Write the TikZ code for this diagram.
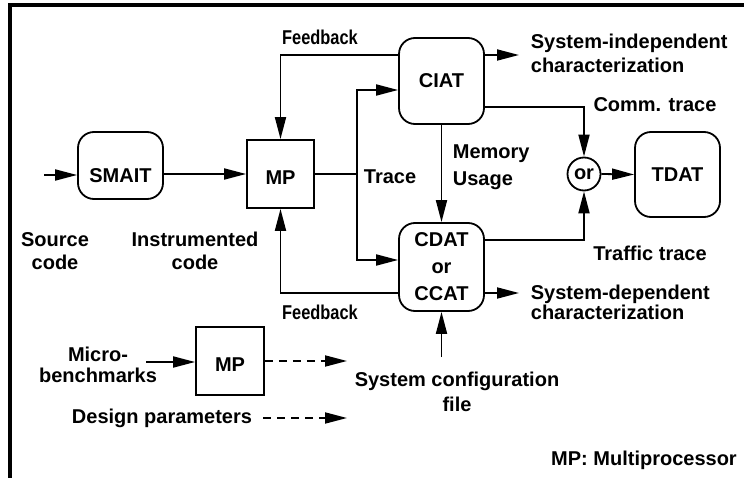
\documentclass[tikz,border=0pt]{standalone}
\usepackage{fontspec}
\setmainfont{Liberation Sans}
\newfontfamily\narrowsans[FakeStretch=0.82]{Liberation Sans}
\usetikzlibrary{arrows.meta}

\begin{document}
\begin{tikzpicture}[x=1pt,y=-1pt,line width=1.8pt,
  lbl/.style={inner sep=0pt,align=center,font=\bfseries\fontsize{20}{23}\selectfont},
  fbl/.style={inner sep=0pt,font=\narrowsans\bfseries\fontsize{20}{23}\selectfont},
  tool/.style={draw,rounded corners=16pt,inner sep=0pt,align=center,
    font=\bfseries\fontsize{20}{27}\selectfont},
  proc/.style={draw,inner sep=0pt,minimum width=67pt,minimum height=68pt,
    text height=21pt,text depth=0pt,
    font=\bfseries\fontsize{20}{23}\selectfont},
  arr/.style={-{Triangle[length=22pt,width=11pt]}},
  dsh/.style={arr,dash pattern=on 8pt off 6pt}]

\useasboundingbox (0,0) rectangle (744,478);

% frame
\draw[line width=3.5pt] (10,478) -- (10,5) -- (744,5);

% boxes
\node[tool,minimum width=85pt,minimum height=67pt,text height=34pt,text depth=0pt]
  (smait) at (120.5,165.5) {SMAIT};
\node[proc] (mp) at (280.5,174) {MP};
\node[tool,minimum width=85pt,minimum height=86pt] (ciat) at (441.5,81) {CIAT};
\node[tool,minimum width=85pt,minimum height=88pt] (cdat) at (441.5,267) {CDAT\\or\\CCAT};
\node[tool,minimum width=85pt,minimum height=85pt] (tdat) at (677.5,174.5) {TDAT};
\node[draw,circle,minimum size=33pt,inner sep=0pt,
  font=\bfseries\fontsize{20}{23}\selectfont] (or) at (584,174) {or};
\node[proc,minimum width=68pt] (mp2) at (230,361) {MP};

% helper points
\coordinate (in) at (44,175);
\coordinate (tr) at (357,174);
\coordinate (ta) at (357,90);
\coordinate (tb) at (357,260);
\coordinate (fbt) at (0,55);
\coordinate (fbb) at (0,293);
\coordinate (si) at (519,55);
\coordinate (ct) at (0,107);
\coordinate (tt) at (0,240);
\coordinate (sd) at (519,293);
\coordinate (sc) at (441.5,357);
\coordinate (mb) at (146,362);
\coordinate (d1) at (347,361);
\coordinate (dp) at (263,418);
\coordinate (d2) at (347,418);

% connectors
\draw[arr] (in) -- (in -| smait.west);
\draw[arr] (smait.east |- mp) -- (mp.west);
\draw (mp.east) -- (tr);
\draw[arr] (tr) |- (ciat.west |- ta);
\draw[arr] (tr) |- (cdat.west |- tb);
\draw[arr] (ciat.west |- fbt) -| (mp.north);
\draw[arr] (cdat.west |- fbb) -| (mp.south);
\draw[arr] (ciat.east |- si) -- (si);
\draw[arr] (ciat.east |- ct) -| (or.north);
\draw[arr] (ciat.south) -- (cdat.north);
\draw[arr] (cdat.east |- tt) -| (or.south);
\draw[arr] (or.east) -- (tdat.west);
\draw[arr] (cdat.east |- sd) -- (sd);
\draw[arr] (sc) -- (cdat.south);
\draw[arr] (mb) -- (mb -| mp2.west);
\draw[dsh] (mp2.east) -- (d1);
\draw[dsh] (dp) -- (d2);

% labels
\node[fbl] (fb1) at (320,37.5) {Feedback};
\node[fbl] (fb2) at (320,312) {Feedback};
\node[lbl,anchor=west] (trl) at (363,177) {Trace};
\node[lbl,anchor=west,align=left,font=\bfseries\fontsize{20}{27}\selectfont] (mem) at (452,167) {Memory\\Usage};
\node[lbl,anchor=west,align=left,font=\bfseries\fontsize{20}{24}\selectfont] (sil) at (530,53.5) {System-independent\\characterization};
\node[lbl] (ctl) at (655,105) {Comm. trace};
\node[lbl] (ttl) at (650,253) {Traffic trace};
\node[lbl,anchor=west,align=left,font=\bfseries\fontsize{20}{20}\selectfont] (sdl) at (530,302) {System-dependent\\characterization};
\node[lbl] (src) at (55,251) {Source\\code};
\node[lbl] (ins) at (195,251) {Instrumented\\code};
\node[lbl,font=\bfseries\fontsize{20}{21}\selectfont] (mbl) at (98,365) {Micro-\\benchmarks};
\node[lbl] (dpl) at (162,418) {Design parameters};
\node[lbl,font=\bfseries\fontsize{20}{25}\selectfont] (scl) at (457,392) {System configuration\\file};
\node[lbl] (mpl) at (644,460) {MP: Multiprocessor};
\end{tikzpicture}
\end{document}
